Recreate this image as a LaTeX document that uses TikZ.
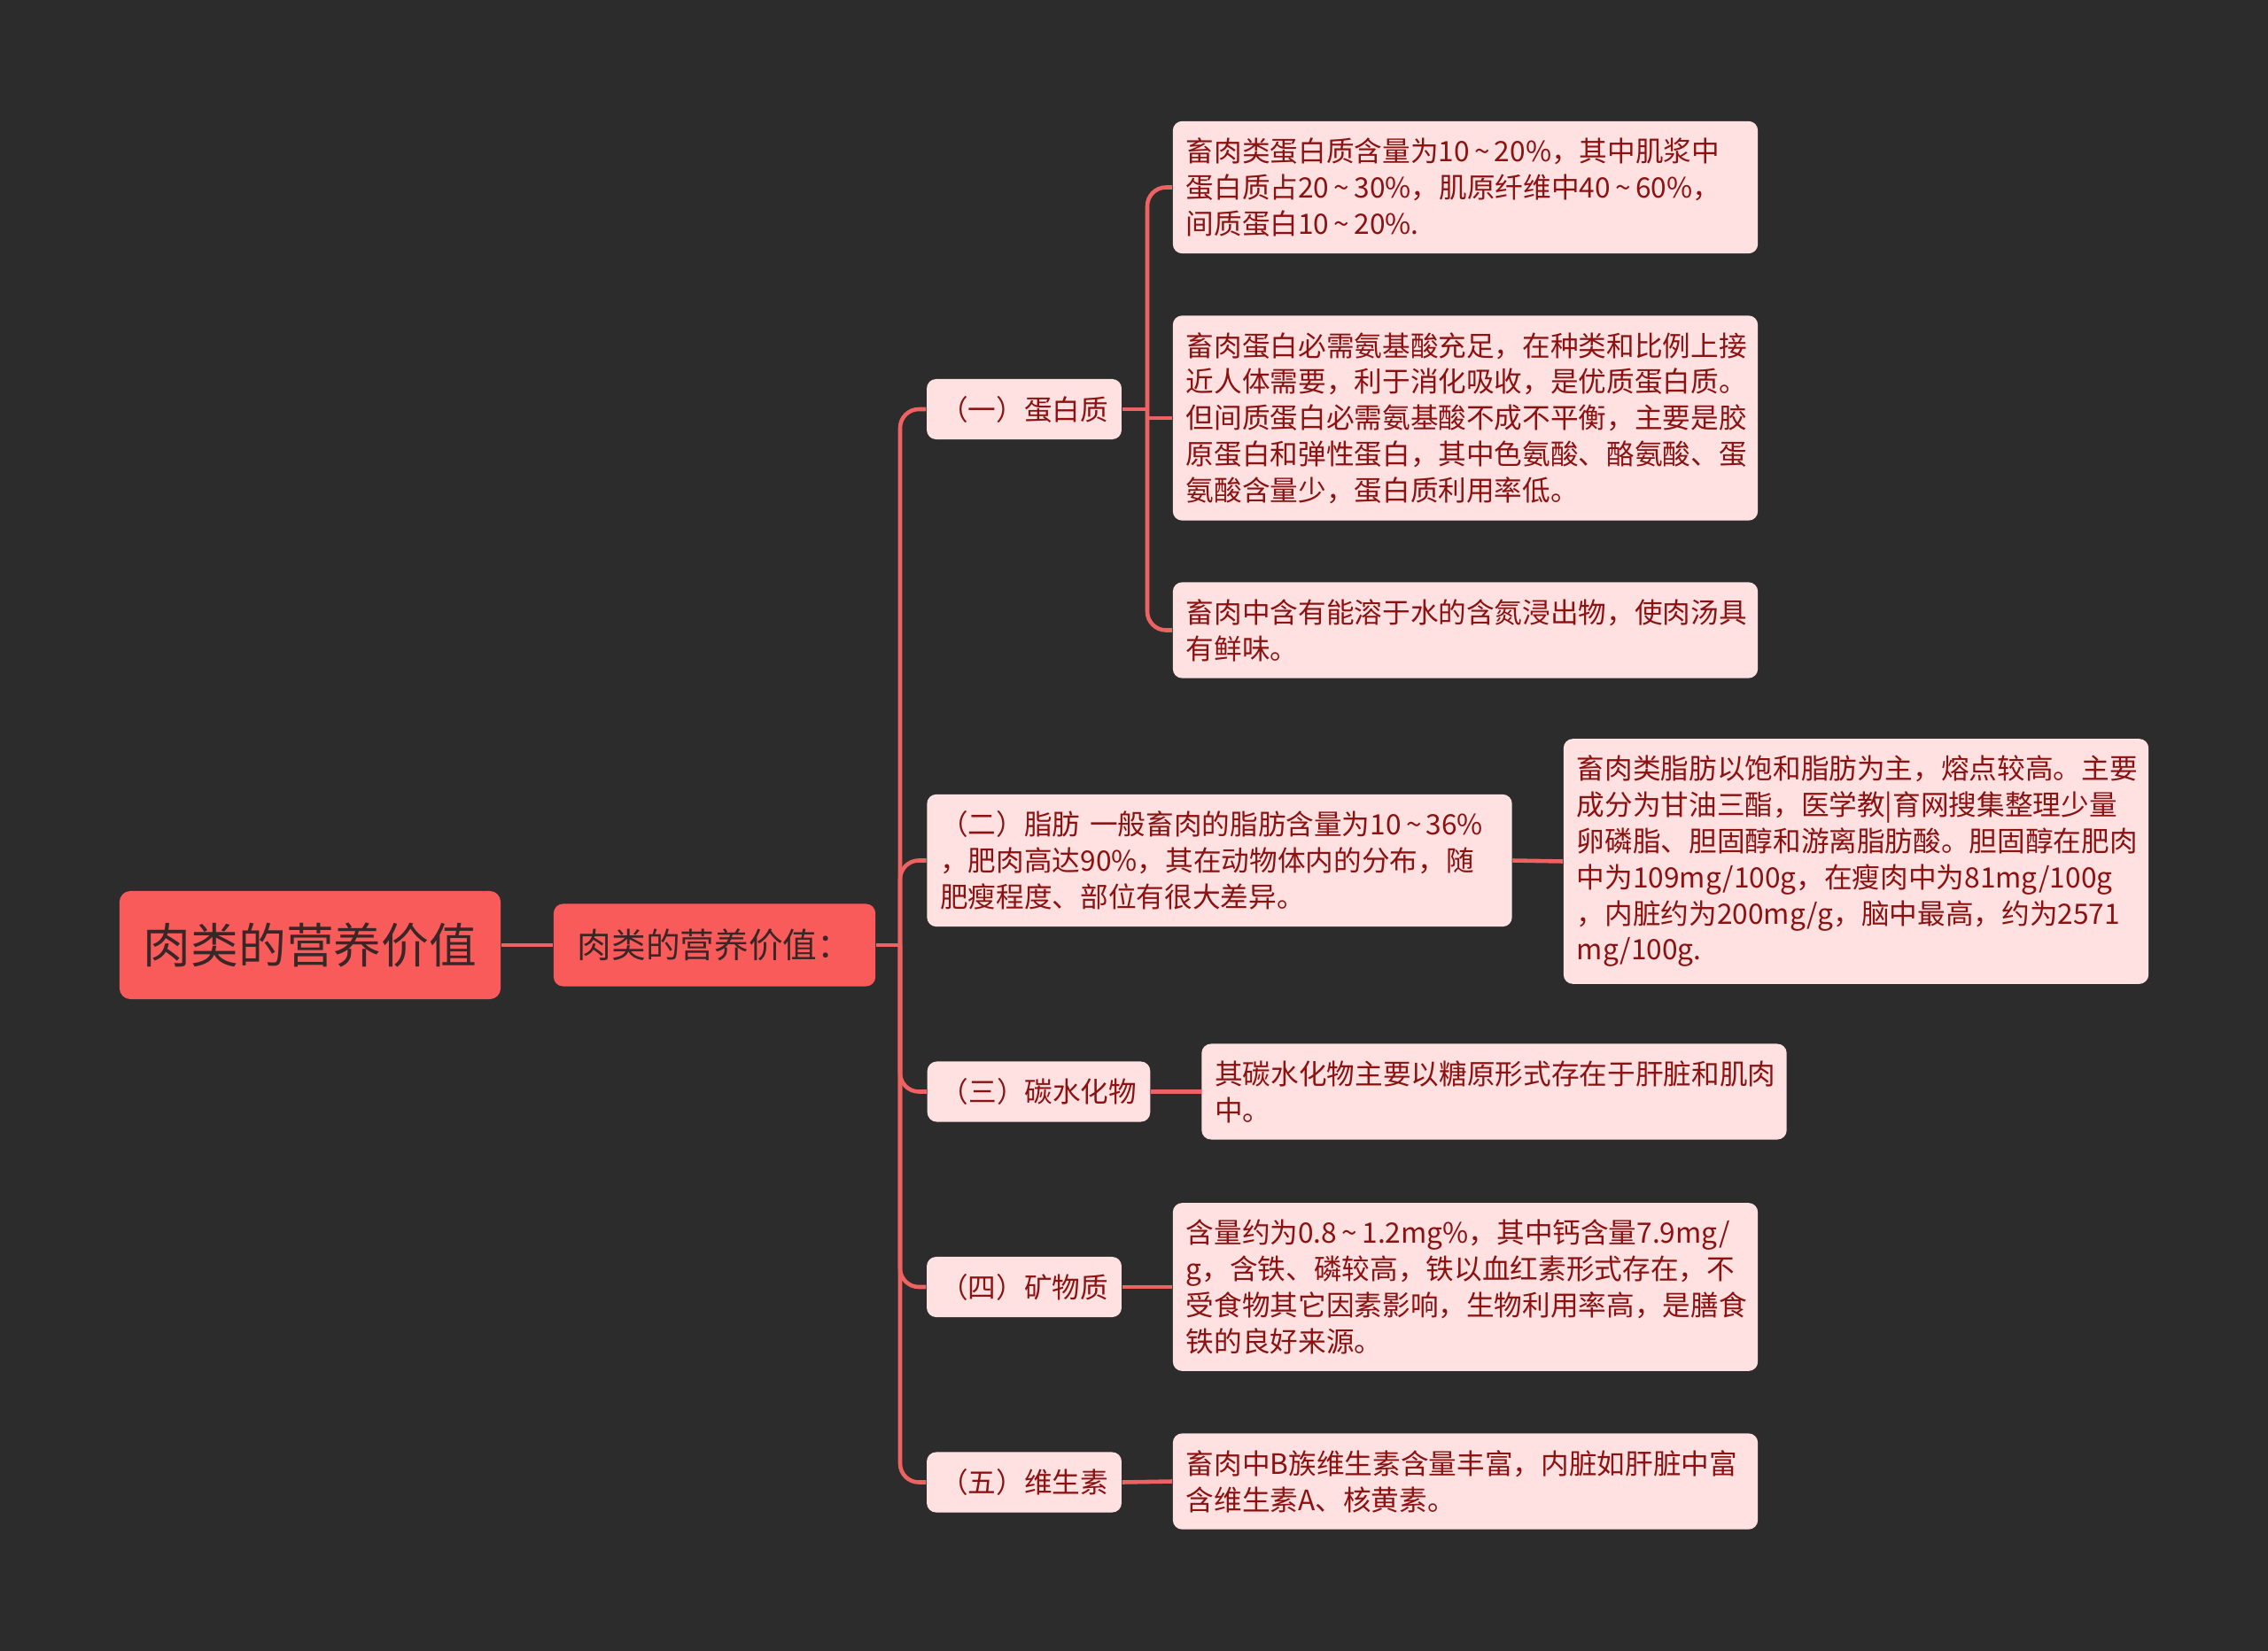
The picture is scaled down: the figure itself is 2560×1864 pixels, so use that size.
\documentclass[tikz,border=0pt]{standalone}
\usepackage{fontspec}
\setmainfont{Noto Sans CJK SC}
\usepackage{xcolor}
\usetikzlibrary{math}
\definecolor{mybg}{RGB}{44,44,44}
\definecolor{myline}{RGB}{238,98,98}
\definecolor{myroot}{RGB}{249,91,91}
\definecolor{mypink}{RGB}{255,225,226}
\definecolor{mytext}{RGB}{140,18,18}
\definecolor{mydark}{RGB}{58,38,38}
\newcommand{\til}{\,\textasciitilde\,}

\begin{document}
\begin{tikzpicture}[x=0.01cm, y=-0.01cm,
  rootbox/.style={fill=myroot, rounded corners=3.5pt, text=mydark, minimum width=4.3cm, minimum height=1.22cm, font=\fontsize{15.3}{18}\selectfont},
  subbox/.style={fill=myroot, rounded corners=3pt, text=mydark, minimum width=3.63cm, minimum height=0.93cm, font=\fontsize{11}{13}\selectfont},
  topicbox/.style={fill=mypink, rounded corners=3pt, text=mytext, inner xsep=0.15cm, minimum height=0.68cm, font=\fontsize{9}{11.6}\selectfont},
  leafbox/.style={topicbox, text width=6.3cm, align=left, inner ysep=0.19cm},
  link/.style={draw=myline, line width=1.3pt, rounded corners=6pt}
]
\tikzmath{
\xt=1156;
\xl=1654;
\yr=1067;
}
\fill[mybg] (0,0) rectangle (2560,1864);
\useasboundingbox (0,0) rectangle (2560,1864);

% root and first level
\node[rootbox] (root) at (350,\yr) {肉类的营养价值};
\node[subbox] (sub) at (806.5,\yr) {肉类的营养价值：};

% topics
\node[topicbox] (t1) at (\xt,462) {（一）蛋白质};
\node[leafbox] (t2) at (1376.5,971.5) {（二）脂肪 一般畜肉的脂肪含量为10\til36\%\\，肥肉高达90\%，其在动物体内的分布，随\\肥瘦程度、部位有很大差异。};
\node[topicbox] (t3) at (1172.5,1232.5) {（三）碳水化物};
\node[topicbox] (t4) at (\xt,1453) {（四）矿物质};
\node[topicbox] (t5) at (\xt,1673.5) {（五）维生素};

% leaves
\node[leafbox] (l1a) at (\xl,211.5) {畜肉类蛋白质含量为10\til20\%，其中肌浆中\\蛋白质占20\til30\%，肌原纤维中40\til60\%，\\间质蛋白10\til20\%.};
\node[leafbox] (l1b) at (\xl,472) {畜肉蛋白必需氨基酸充足，在种类和比例上接\\近人体需要，利于消化吸收，是优质蛋白质。\\但间质蛋白必需氨基酸不成不平衡，主要是胶\\原蛋白和弹性蛋白，其中色氨酸、酪氨酸、蛋\\氨酸含量少，蛋白质利用率低。};
\node[leafbox] (l1c) at (\xl,711.5) {畜肉中含有能溶于水的含氮浸出物，使肉汤具\\有鲜味。};
\node[leafbox] (l2) at (2095,972.5) {畜肉类脂肪以饱和脂肪为主，熔点较高。主要\\成分为甘油三酯，医学教|育网搜集整理少量\\卵磷脂、胆固醇和游离脂肪酸。胆固醇在肥肉\\中为109mg/100g，在瘦肉中为81mg/100g\\，内脏约为200mg/g，脑中最高，约为2571\\mg/100g.};
\node[leafbox] (l3) at (1686.5,1232.5) {其碳水化物主要以糖原形式存在于肝脏和肌肉\\中。};
\node[leafbox] (l4) at (\xl,1453) {含量约为0.8\til1.2mg\%，其中钙含量7.9mg/\\g，含铁、磷较高，铁以血红素形式存在，不\\受食物其它因素影响，生物利用率高，是膳食\\铁的良好来源。};
\node[leafbox] (l5) at (\xl,1672.5) {畜肉中B族维生素含量丰富，内脏如肝脏中富\\含维生素A、核黄素。};

% connectors
\coordinate (hub) at (1016,\yr);
\coordinate (hubA) at (1295,462);
\draw[link] (root.east) -- (sub.west);
\draw[link] (sub.east) -- (hub);
\foreach \n in {t1,t2,t3,t4,t5}
  \draw[link] (hub) |- (\n.west);
\draw[link] (t1.east) -- (hubA);
\draw[link] (hubA) |- (l1a.west);
\draw[link] (hubA) |- (l1c.west);
\draw[link, sharp corners] (hubA) |- (l1b.west);
\draw[link] (t2.east) -- (l2.west);
\draw[link] (t3.east) -- (l3.west);
\draw[link] (t4.east) -- (l4.west);
\draw[link] (t5.east) -- (l5.west);
\end{tikzpicture}
\end{document}
